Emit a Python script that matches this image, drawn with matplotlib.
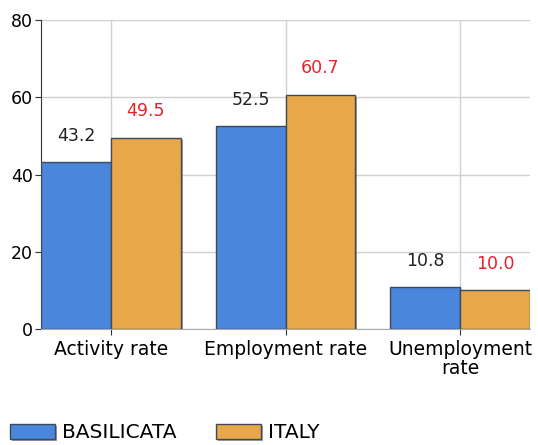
import numpy as np
import matplotlib.pyplot as plt
import matplotlib.patheffects as pe

categories = ['Activity rate', 'Employment rate', 'Unemployment\nrate']
basilicata = [43.2, 52.5, 10.8]
italy = [49.5, 60.7, 10.0]
series_names = ['BASILICATA', 'ITALY']

plt.rcParams['font.family'] = ['DejaVu Sans']

fig = plt.figure(figsize=(5.38, 4.45), dpi=100)
ax = fig.add_axes([41/538, 1-329/445, (530-41)/538, (329-20)/445])

x = np.arange(len(categories))
w = 0.4
shadow = [pe.SimplePatchShadow(offset=(1.5, -1.5), alpha=0.45), pe.Normal()]
b1 = ax.bar(x - w/2, basilicata, w, color='#4a86db', edgecolor='#3c4a5a', linewidth=1,
            label=series_names[0], path_effects=shadow, zorder=3)
b2 = ax.bar(x + w/2, italy, w, color='#e8a84a', edgecolor='#3c4a5a', linewidth=1,
            label=series_names[1], path_effects=shadow, zorder=3)

for xi, v in zip(x - w/2, basilicata):
    ax.text(xi, v + 4.5, '%.1f' % v, ha='center', va='bottom', fontsize=12.5, color='#222222')
for xi, v in zip(x + w/2, italy):
    ax.text(xi, v + 4.5, '%.1f' % v, ha='center', va='bottom', fontsize=12.5, color='#e8232a')

ax.set_xlim(-0.4, 2.4)
ax.set_ylim(0, 80)
ax.set_yticks([0, 20, 40, 60, 80])
ax.set_xticks(x)
ax.set_xticklabels(categories, fontsize=13.5, linespacing=1.0)
ax.tick_params(axis='y', labelsize=12.5, length=4, color='#333333', pad=2)
ax.tick_params(axis='x', length=4, color='#333333', pad=4)
ax.grid(True, color='#d0d0d0', linewidth=1, zorder=0)
ax.set_axisbelow(True)
for s in ['top', 'right']:
    ax.spines[s].set_visible(False)
ax.spines['left'].set_color('#333333')
ax.spines['bottom'].set_color('#aaaaaa')

fig.legend(handles=[b1, b2], loc='lower left', bbox_to_anchor=(-0.015, -0.035), ncol=2,
           frameon=False, fontsize=14.5, handlelength=2.24, handleheight=0.8,
           columnspacing=1.95, handletextpad=0.35)

fig.savefig('out.png', dpi=100)
